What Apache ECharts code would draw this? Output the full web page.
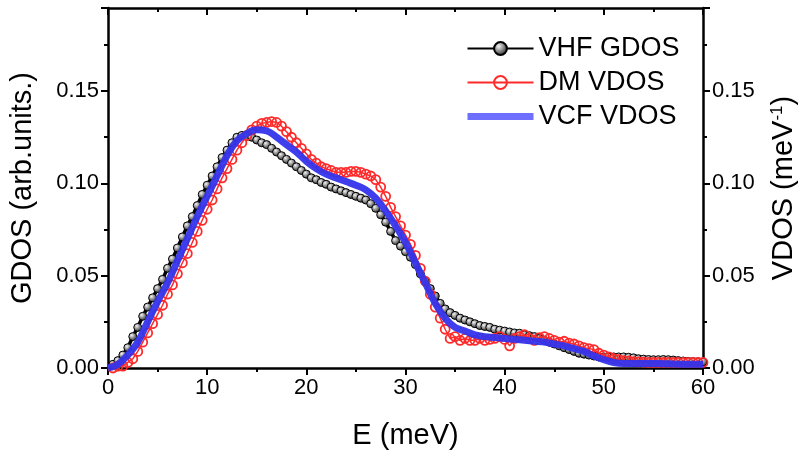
<!DOCTYPE html>
<html><head><meta charset="utf-8">
<script src="https://cdn.jsdelivr.net/npm/echarts@6/dist/echarts.min.js"></script>
<style>html,body{margin:0;padding:0;background:#fff}#c{width:800px;height:454px}</style>
</head><body><div id="c"></div>
<script>
// Energy grid for measured/DM points (meV)
var energyFine = [0.5,1,1.5,2,2.5,3,3.5,4,4.5,5,5.5,6,6.5,7,7.5,8,8.5,9,9.5,10,
10.5,11,11.5,12,12.5,13,13.5,14,14.5,15,15.5,16,16.5,17,17.5,18,18.5,19,19.5,20,
20.5,21,21.5,22,22.5,23,23.5,24,24.5,25,25.5,26,26.5,27,27.5,28,28.5,29,29.5,30,
30.5,31,31.5,32,32.5,33,33.5,34,34.5,35,35.5,36,36.5,37,37.5,38,38.5,39,39.5,40,
40.5,41,41.5,42,42.5,43,43.5,44,44.5,45,45.5,46,46.5,47,47.5,48,48.5,49,49.5,50,
50.5,51,51.5,52,52.5,53,53.5,54,54.5,55,55.5,56,56.5,57,57.5,58,58.5,59,59.5,60];

var vhfGdos = [0.002,0.004,0.007,0.011,0.017,0.022,0.028,0.033,0.038,0.043,0.048,0.054,0.059,0.065,0.071,0.077,0.082,0.088,0.094,0.099,
0.104,0.109,0.114,0.118,0.122,0.125,0.126,0.1255,0.125,0.1235,0.122,0.121,0.119,0.117,0.115,0.113,0.111,0.109,0.107,0.105,
0.103,0.102,0.1005,0.0995,0.098,0.097,0.096,0.095,0.094,0.093,0.092,0.091,0.089,0.0865,0.083,0.079,0.074,0.069,0.066,0.063,
0.060,0.056,0.051,0.047,0.043,0.039,0.035,0.032,0.030,0.0285,0.027,0.026,0.025,0.024,0.023,0.0225,0.022,0.021,0.0205,0.020,
0.0195,0.019,0.0188,0.018,0.0175,0.017,0.016,0.015,0.014,0.013,0.012,0.011,0.010,0.009,0.008,0.0075,0.007,0.0065,0.006,0.006,
0.006,0.006,0.006,0.006,0.0058,0.0055,0.005,0.0048,0.0046,0.0045,0.0045,0.0046,0.0045,0.0043,0.004,0.0038,0.0036,0.0035,0.0034,0.0033];

var dmVdos = [0.000,0.001,0.001,0.003,0.005,0.009,0.014,0.019,0.024,0.029,0.034,0.040,0.045,0.051,0.057,0.062,0.068,0.074,0.080,0.086,
0.091,0.097,0.103,0.108,0.113,0.118,0.122,0.126,0.129,0.131,0.1325,0.133,0.1335,0.133,0.131,0.128,0.125,0.122,0.119,0.116,
0.113,0.111,0.109,0.108,0.107,0.106,0.106,0.106,0.1065,0.1065,0.106,0.105,0.104,0.102,0.098,0.093,0.087,0.082,0.077,0.072,
0.067,0.061,0.054,0.047,0.040,0.033,0.027,0.021,0.016,0.017,0.015,0.016,0.015,0.015,0.016,0.015,0.0155,0.016,0.017,0.0155,
0.012,0.016,0.017,0.018,0.016,0.015,0.0165,0.017,0.016,0.015,0.014,0.0145,0.0135,0.013,0.012,0.011,0.0105,0.010,0.008,0.007,
0.006,0.005,0.0045,0.004,0.0038,0.0035,0.0033,0.0032,0.003,0.003,0.003,0.003,0.003,0.003,0.003,0.003,0.003,0.003,0.003,0.003];

var energyCoarse = [0,1,2,3,4,5,6,7,8,9,10,11,12,13,14,15,16,17,18,19,20,21,22,23,24,25,26,27,28,29,30,
31,32,33,34,35,36,37,38,39,40,41,42,43,44,45,46,47,48,49,50,51,52,53,54,55,56,57,58,59,60];
var vcfVdos = [0,0.002,0.007,0.014,0.025,0.036,0.046,0.058,0.070,0.082,0.093,0.104,0.115,0.123,0.127,0.129,0.1285,0.125,0.121,0.117,0.112,
0.108,0.105,0.103,0.101,0.099,0.0965,0.092,0.085,0.077,0.068,0.057,0.046,0.035,0.027,0.022,0.020,0.018,0.017,0.0165,0.016,
0.0155,0.015,0.0145,0.014,0.013,0.012,0.0105,0.009,0.0065,0.0045,0.003,0.0025,0.0025,0.0025,0.0025,0.0023,0.0022,0.002,0.002,0.002];

var yTicks = [0, 0.05, 0.10, 0.15];
var seriesNames = ['VHF GDOS', 'DM VDOS', 'VCF VDOS'];

function pairs(xs, ys){ return xs.map(function(x,i){ return [x, ys[i]]; }); }

var FONT = "'Liberation Sans', Arial, sans-serif";
var axisLine = {show:true, onZero:false, lineStyle:{color:'#000', width:2.5}};
var chart = echarts.init(document.getElementById('c'), null, {renderer:'canvas'});
var ball = {type:'radial', x:0.38, y:0.35, r:0.75, colorStops:[
  {offset:0, color:'#f4f4f4'},{offset:0.45, color:'#8a8a8a'},{offset:1, color:'#111'}]};
function yFmt(v){ return yTicks.some(function(t){return Math.abs(t-v)<1e-9;}) ? v.toFixed(2) : ''; }

chart.setOption({
  animation:false,
  backgroundColor:'#fff',
  grid:{left:108, right:97, top:8, bottom:86, containLabel:false, outerBoundsMode:'none'},
  legend:{
    orient:'vertical', left:464, top:35, padding:0, itemWidth:66, itemHeight:16, itemGap:7,
    textStyle:{fontFamily:FONT, fontSize:27, color:'#000'},
    data:[
      {name:seriesNames[0]},
      {name:seriesNames[1]},
      {name:seriesNames[2], lineStyle:{color:'#6666ff', width:7}, itemStyle:{opacity:0}}
    ]
  },
  xAxis:[{
    type:'value', min:0, max:60, interval:10, position:'bottom',
    name:'E (meV)', nameLocation:'middle', nameGap:53,
    nameTextStyle:{fontFamily:FONT, fontSize:29, color:'#000'},
    axisLine:axisLine, splitLine:{show:false},
    axisTick:{show:true, inside:false, length:7, lineStyle:{color:'#000', width:2}},
    minorTick:{show:true, splitNumber:2, length:4, lineStyle:{color:'#000', width:2}},
    axisLabel:{fontFamily:FONT, fontSize:22, color:'#000', margin:9}
  },{
    type:'value', min:0, max:60, interval:10, position:'top',
    axisLine:axisLine, splitLine:{show:false}, axisLabel:{show:false},
    axisTick:{show:true, inside:true, length:7, lineStyle:{color:'#000', width:2}},
    minorTick:{show:true, splitNumber:2, length:4, lineStyle:{color:'#000', width:2}}
  }],
  yAxis:[{
    type:'value', min:0, max:0.195, interval:0.05, position:'left',
    name:'GDOS (arb.units.)', nameLocation:'middle', nameGap:71, nameRotate:90,
    nameTextStyle:{fontFamily:FONT, fontSize:29, color:'#000'},
    axisLine:axisLine, splitLine:{show:false},
    axisTick:{show:true, inside:false, length:7, lineStyle:{color:'#000', width:2}},
    minorTick:{show:true, splitNumber:2, length:4, lineStyle:{color:'#000', width:2}},
    axisLabel:{fontFamily:FONT, fontSize:22, color:'#000', margin:9, showMaxLabel:false, formatter:yFmt}
  },{
    type:'value', min:0, max:0.195, interval:0.05, position:'right',
    name:'VDOS (meV{sup|-1})', nameLocation:'middle', nameGap:66, nameRotate:90,
    nameTextStyle:{fontFamily:FONT, fontSize:29, color:'#000',
      rich:{sup:{fontFamily:FONT, fontSize:17, color:'#000', verticalAlign:'top', padding:[0,0,12,0]}}},
    axisLine:axisLine, splitLine:{show:false},
    axisTick:{show:true, inside:false, length:7, lineStyle:{color:'#000', width:2}},
    minorTick:{show:true, splitNumber:2, length:4, lineStyle:{color:'#000', width:2}},
    axisLabel:{fontFamily:FONT, fontSize:22, color:'#000', margin:9, showMaxLabel:false, formatter:yFmt}
  }],
  series:[{
    name:seriesNames[0], type:'line', xAxisIndex:0, yAxisIndex:0,
    data:pairs(energyFine, vhfGdos), symbol:'circle', symbolSize:8, showAllSymbol:true,
    lineStyle:{color:'#000', width:3.5},
    itemStyle:{color:ball, borderColor:'#000', borderWidth:1},
    z:2
  },{
    name:seriesNames[1], type:'line', xAxisIndex:0, yAxisIndex:0,
    data:pairs(energyFine, dmVdos), symbol:'circle', symbolSize:9, showAllSymbol:true,
    lineStyle:{color:'#ff2a2a', width:1.5},
    itemStyle:{color:'rgba(255,255,255,0)', borderColor:'#ff2a2a', borderWidth:1.8},
    z:3
  },{
    name:seriesNames[2], type:'line', xAxisIndex:0, yAxisIndex:0,
    data:pairs(energyCoarse, vcfVdos), symbol:'none', smooth:0.4,
    lineStyle:{color:'#3434ec', width:7, opacity:0.95},
    itemStyle:{color:'#3434ec'},
    z:4
  }]
});
</script></body></html>
